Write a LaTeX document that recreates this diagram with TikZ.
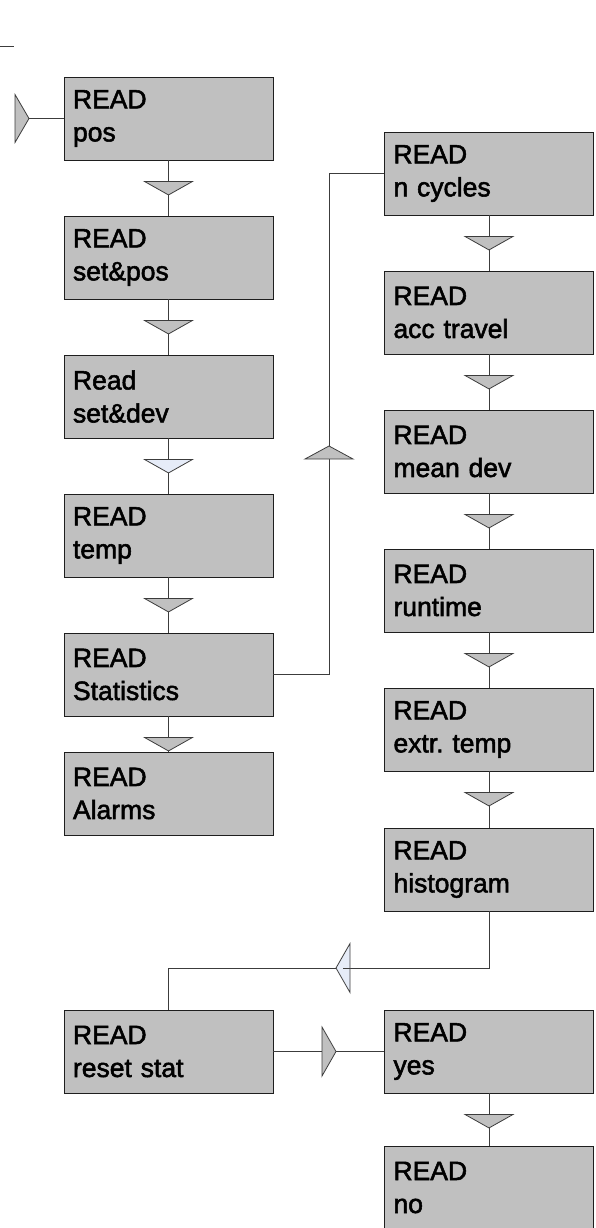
\documentclass[tikz,border=0pt]{standalone}
\usepackage{fontspec}
\setmainfont{Liberation Sans}
\newfontfamily\letrapaso[RawFeature={embolden=2}]{Liberation Sans}
\usepackage{xcolor}
\usepackage{tikz}
\usetikzlibrary{positioning, calc}
\definecolor{caja}{HTML}{C0C0C0}
\definecolor{celeste}{HTML}{E6ECF8}
\definecolor{trazo}{HTML}{3C3C3C}
\definecolor{borde}{HTML}{1E1E1E}
\frenchspacing

\begin{document}
\begin{tikzpicture}[x=1pt, y=1pt,
    paso/.style={draw=borde, fill=caja, line width=0.9pt, minimum width=209, minimum height=83,
      text width=191, align=left, inner sep=0pt, font=\letrapaso\fontsize{26.5}{33}\selectfont},
    linea/.style={draw=trazo, line width=0.8pt},
    tri/.style={draw=trazo, line width=0.8pt, line join=miter}]
    \useasboundingbox (0,0) rectangle (596,-1228);
    % left column
    \foreach \nom/\yc/\txt in {pos/118.5/{READ\\pos}, setpos/257.5/{READ\\set\&pos},
        setdev/396.5/{Read\\set\&dev}, temp/535.5/{READ\\temp},
        stat/674.5/{READ\\Statistics}, alarm/793.5/{READ\\Alarms},
        reset/1051.5/{READ\\reset stat}}
      {\node[paso] (\nom) at (168.5,-\yc) {\txt};}
    % right column
    \foreach \nom/\yc/\txt in {ncyc/173.5/{READ\\n cycles}, acc/312.5/{READ\\acc travel},
        mean/451.5/{READ\\mean dev}, run/590.5/{READ\\runtime},
        extr/729.5/{READ\\extr.\ temp}, hist/869.5/{READ\\histogram},
        yes/1051.5/{READ\\yes}, no/1187.5/{READ\\no}}
      {\node[paso] (\nom) at (489,-\yc) {\txt};}
    % down links
    \foreach \a/\b/\c in {pos/setpos/caja, setpos/setdev/caja, setdev/temp/celeste,
        temp/stat/caja, stat/alarm/caja, ncyc/acc/caja, acc/mean/caja, mean/run/caja,
        run/extr/caja, extr/hist/caja, yes/no/caja}
      {\draw[linea] (\a.south) -- (\b.north);
       \filldraw[tri, fill=\c] ($(\a.south)+(-24,-21)$) -- ++(48,0) -- ++(-24,-13.5) -- cycle;}
    % entry
    \draw[trazo, line width=0.8pt] (0,-46) -- (14,-46);
    \coordinate (entrada) at (29,-118.5);
    \draw[linea] (entrada) -- (pos.west);
    \filldraw[tri, fill=caja] (entrada) -- ++(-14,24) -- ++(0,-48) -- cycle;
    % statistics to n cycles
    \draw[linea] (stat.east) -- ++(56,0) |- (ncyc.west);
    \filldraw[tri, fill=caja] (329,-446) -- ++(24,-13) -- ++(-48,0) -- cycle;
    % histogram to reset stat
    \draw[linea] (hist.south) -- ++(0,-56.5) -| (reset.north);
    \filldraw[tri, fill=celeste] (336,-968) -- ++(14,24.5) -- ++(0,-49) -- cycle;
    \draw[linea] (350,-968) -- ++(-7,0);
    % reset stat to yes
    \draw[linea] (reset.east) -- (yes.west);
    \filldraw[tri, fill=caja] (336,-1051.5) -- ++(-14,24.5) -- ++(0,-49) -- cycle;
\end{tikzpicture}
\end{document}
